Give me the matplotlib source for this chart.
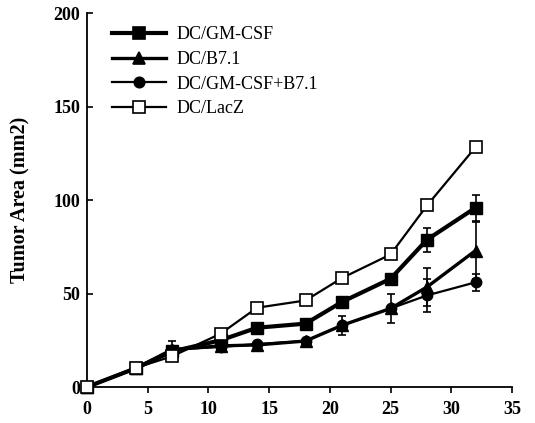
import matplotlib
matplotlib.use("Agg")
import matplotlib.pyplot as plt
from matplotlib.lines import Line2D

days = [0, 4, 7, 11, 14, 18, 21, 25, 28, 32]

gm_csf = [0, 10, 19, 25, 31.7, 33.9, 45.5, 57.9, 78.8, 95.9]
gm_csf_err = [0, 0, 0, 0, 0, 0, 0, 0, 6.5, 7]

b71 = [0, 10, 20, 22, 22.5, 24.6, 33, 42, 53.5, 73]
b71_err = [0, 0, 4.5, 0, 0, 0, 5, 7.5, 10, 15]

gm_b71 = [0, 10, 20, 21.4, 23, 24.6, 33, 42, 49, 56]
gm_b71_err = [0, 0, 0, 0, 0, 0, 0, 0, 9, 4.5]

lacz = [0, 10.2, 16.4, 28.5, 42.4, 46.3, 58.3, 70.9, 97.1, 128.3]

labels = ["DC/GM-CSF", "DC/B7.1", "DC/GM-CSF+B7.1", "DC/LacZ"]
xticks = [0, 5, 10, 15, 20, 25, 30, 35]
yticks = [0, 50, 100, 150, 200]

plt.rcParams['font.family'] = ['Liberation Serif', 'DejaVu Serif']

fig = plt.figure(figsize=(5.35, 4.23), dpi=100)
ax = fig.add_axes([0.1626, 0.0851, 0.957 - 0.1626, 0.969 - 0.0851])

ekw = dict(ecolor='black', elinewidth=1.2, capsize=3, capthick=1.2)

styles = [
    dict(lw=3.0, marker='s', ms=9, mfc='black'),
    dict(lw=2.4, marker='^', ms=8.5, mfc='black'),
    dict(lw=1.6, marker='o', ms=7.5, mfc='black'),
    dict(lw=1.6, marker='s', ms=9, mfc='white'),
]

ax.errorbar(days, gm_b71, yerr=gm_b71_err, color='black', mec='black',
            zorder=3, clip_on=False, **styles[2], **ekw)
ax.errorbar(days, b71, yerr=b71_err, color='black', mec='black',
            zorder=4, clip_on=False, **styles[1], **ekw)
ax.errorbar(days, gm_csf, yerr=gm_csf_err, color='black', mec='black',
            zorder=5, clip_on=False, **styles[0], **ekw)
ax.plot(days, lacz, color='black', mec='black', mew=1.2, zorder=6,
        clip_on=False, **styles[3])

ax.set_xlim(0, 35)
ax.set_ylim(0, 200)
ax.set_xticks(xticks)
ax.set_yticks(yticks)
for s in ['top', 'right']:
    ax.spines[s].set_visible(False)
for s in ['left', 'bottom']:
    ax.spines[s].set_linewidth(1.3)
ax.tick_params(axis='x', direction='out', length=4, width=1.2, labelsize=13, pad=6)
ax.tick_params(axis='y', direction='in', length=4, width=1.2, labelsize=13, pad=5)
for t in ax.get_xticklabels() + ax.get_yticklabels():
    t.set_fontweight('bold')
ax.set_ylabel("Tumor Area (mm2)", fontsize=14.5, fontweight='bold', labelpad=16)

handles = [Line2D([], [], color='black', mec='black', mew=1.2, **st) for st in styles]
leg = ax.legend(handles, labels, loc='upper left', bbox_to_anchor=(0.02, 1.008),
                frameon=False, fontsize=13, handlelength=3.0, handletextpad=0.6,
                labelspacing=0.42)

fig.savefig("out.png", dpi=100)
